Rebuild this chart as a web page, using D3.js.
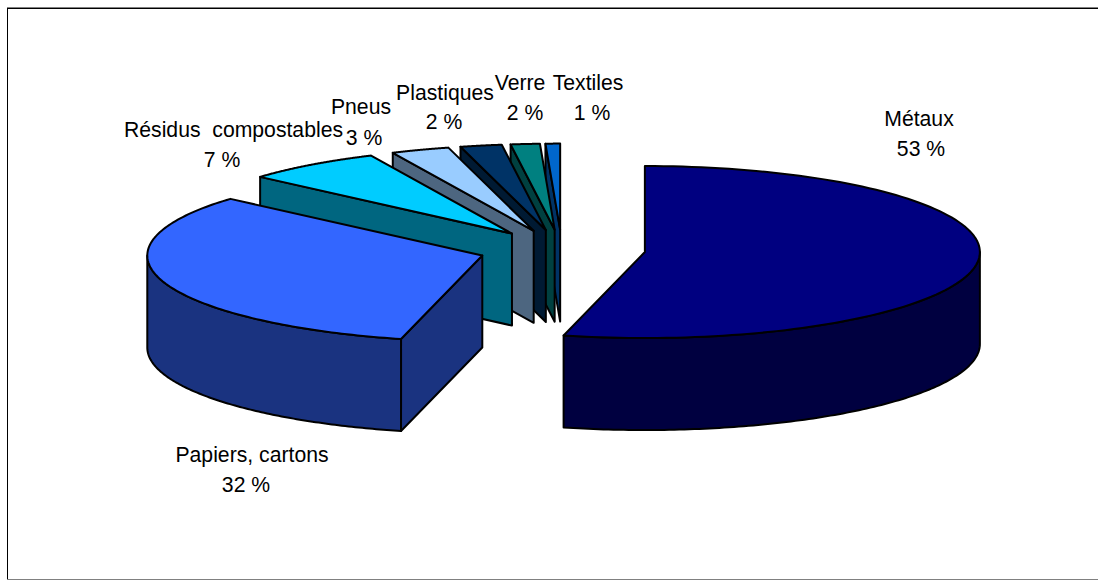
<!DOCTYPE html>
<html><head><meta charset="utf-8">
<script src="https://cdnjs.cloudflare.com/ajax/libs/d3/7.8.5/d3.min.js"></script>
<style>html,body{margin:0;padding:0;background:#fff}svg{display:block}text{font-family:"Liberation Sans",Arial,sans-serif;fill:#000}</style>
</head><body><svg id="c" width="1098" height="580"></svg>
<script>
const categories = ["Métaux","Papiers, cartons","Résidus  compostables","Pneus","Plastiques","Verre","Textiles"];
const shares = [53.9,32.56,6.63,2.81,2,1.4,0.7];
const shareLabels = ["53 %","32 %","7 %","3 %","2 %","2 %","1 %"];
const topColors = ["#000080","#3366FF","#00CCFF","#99CCFF","#003366","#008080","#0066CC"];
const sideColors = ["#000040","#1A3380","#006680","#4D6680","#001A33","#004040","#003366"];
const labelLayout = [
 {name:[919,126],pct:[921,156]},
 {name:[252,462],pct:[246,492]},
 {name:[233.5,137],pct:[222,167]},
 {name:[361,114],pct:[364,145]},
 {name:[445,100],pct:[444,129]},
 {name:[520,90],pct:[525,120]},
 {name:[588,90],pct:[592,120]}
];
const W=1098,H=580,cx=562,cy=249.6,rx=335,ry=86,depth=92,expX=83.5,expY=20,fs=21.2;
const svg=d3.select("#c");
svg.append("rect").attr("width",W).attr("height",H).attr("fill","#fff");
const frame=svg.append("g").attr("shape-rendering","crispEdges");
[[7,7.5,1098,7.5,"#808080"],[7,8.5,1098,8.5,"#000"],[7.5,8,7.5,579,"#000"],[7,579.5,1098,579.5,"#808080"]].forEach(l=>
 frame.append("line").attr("x1",l[0]).attr("y1",l[1]).attr("x2",l[2]).attr("y2",l[3]).attr("stroke",l[4]));
const pie=d3.pie().sort(null).value(d=>d)(shares);
const ux=d3.scaleLinear().domain([-1,1]).range([-rx,rx]);
const uy=d3.scaleLinear().domain([-1,1]).range([ry,-ry]);
const ex=d3.scaleLinear().domain([-1,1]).range([cx-expX,cx+expX]);
const ey=d3.scaleLinear().domain([-1,1]).range([cy+expY,cy-expY]);
const slices=pie.map((p,i)=>{
 const mid=(p.startAngle+p.endAngle)/2;
 const ax=ex(Math.sin(mid)),ay=ey(Math.cos(mid));
 const pt=t=>[ax+ux(Math.sin(t)),ay+uy(Math.cos(t))];
 return {i,ax,ay,a0:p.startAngle,a1:p.endAngle,pt};
});
const arcPts=(s,a,b)=>d3.range(0,121).map(k=>s.pt(a+(b-a)*k/120));
const lineGen=d3.line();
function draw(pts,fill){
 svg.append("path").attr("d",lineGen(pts)+"Z").attr("fill",fill).attr("stroke","#000").attr("stroke-width",2).attr("stroke-linejoin","round");
}
const drop=p=>[p[0],p[1]+depth];
[0,6,5,4,3,2,1].forEach(i=>{
 const s=slices[i];
 const w0=Math.max(s.a0,Math.PI/2),w1=Math.min(s.a1,Math.PI*1.5);
 if(s.a0>Math.PI){
  const o=s.pt(s.a0),c=[s.ax,s.ay];
  draw([c,o,drop(o),drop(c)],sideColors[i]);
 }
 if(w1>w0){
  const top=arcPts(s,w0,w1);
  draw(top.concat(top.slice().reverse().map(drop)),sideColors[i]);
 }
 draw([[s.ax,s.ay]].concat(arcPts(s,s.a0,s.a1)),topColors[i]);
});
const labels=svg.append("g").attr("font-size",fs).attr("text-anchor","middle");
categories.forEach((c,i)=>{
 labels.append("text").attr("x",labelLayout[i].name[0]).attr("y",labelLayout[i].name[1]).style("white-space","pre").text(c);
 labels.append("text").attr("x",labelLayout[i].pct[0]).attr("y",labelLayout[i].pct[1]).style("white-space","pre").text(shareLabels[i]);
});
</script></body></html>
